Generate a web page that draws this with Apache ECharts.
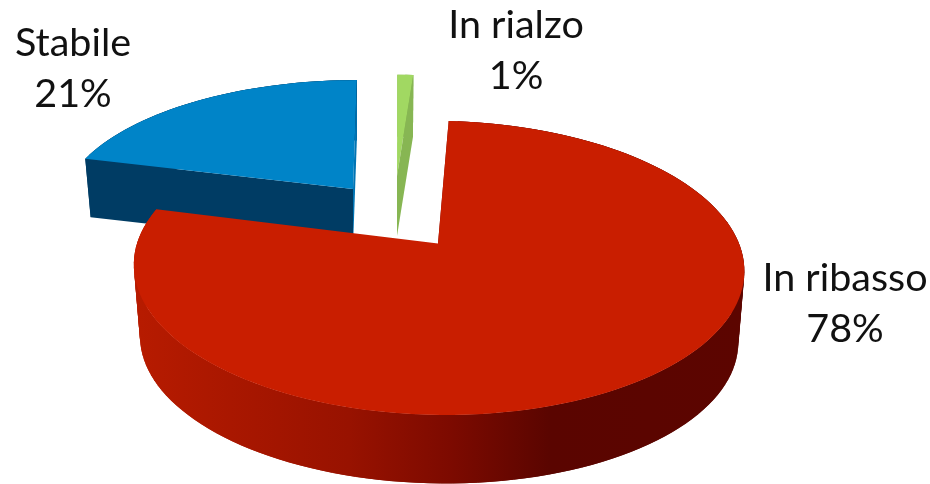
<!DOCTYPE html>
<html>
<head>
<meta charset="utf-8">
<title>Andamento</title>
<style>
html, body { margin: 0; padding: 0; background: #fff; }
#chart { width: 930px; height: 484px; }
</style>
<script src="https://cdn.jsdelivr.net/npm/echarts@6/dist/echarts.min.js"></script>
</head>
<body>
<div id="chart"></div>
<script>
var categories = ['In rialzo', 'In ribasso', 'Stabile'];
var shares = [1, 78, 21];

// one entry per slice, same order as categories
// cx,cy = tip of the exploded slice, rx,ry = disc radius, h = thickness, vx = vanishing x
var layout = [
	{cx: 397, cy: 176, rx: 297, ry: 118, h: 60, vx: 399, labelX: 516, labelY: 51, z: 2},
	{cx: 438, cy: 243.5, rx: 301, ry: 143, h: 72, vx: 399, labelX: 845, labelY: 304, z: 3},
	{cx: 353, cy: 189, rx: 289, ry: 127, h: 58, vx: 380, labelX: 73, labelY: 69, z: 1}
];
var tops = ['#a1d862', '#c91e00', '#0084c8'];
var cuts = ['#87b653', null, '#0074b4'];
var sides = ['#87b653', null, '#003c64'];
var perspective = 0.166;
var shrink = 0.98;

var total = 0;
for (var i = 0; i < shares.length; i++) {
	total += shares[i];
}

function project(s, angle, lower) {
	var a = angle * Math.PI / 180;
	var X = Math.sin(a), Y = -Math.cos(a);
	var w = 1 - perspective * Y;
	var dx = s.rx * X / w, dy = s.ry * Y / w;
	var base = s.vx + (s.cx - s.vx) / w;
	if (lower) {
		return [base + dx * shrink, s.cy + dy * shrink + s.h];
	}
	return [base + dx, s.cy + dy];
}

function arc(s, from, to, lower) {
	var pts = [];
	var steps = Math.max(2, Math.ceil((to - from) / 2));
	for (var i = 0; i <= steps; i++) {
		pts.push(project(s, from + (to - from) * i / steps, lower));
	}
	return pts;
}

function tip(s, lower) {
	return lower ? [s.cx, s.cy + s.h] : [s.cx, s.cy];
}

function poly(points, fill, z) {
	return {type: 'polygon', z2: z, shape: {points: points}, style: {fill: fill}};
}

function renderSlice(params, api) {
	var idx = params.dataIndex;
	var s = layout[idx];
	var from = 0;
	for (var i = 0; i < idx; i++) {
		from += shares[i] / total * 360;
	}
	var to = from + api.value(0) / total * 360;
	var sideFill = sides[idx];
	if (!sideFill) {
		// shading of the round wall, global so the strips line up
		sideFill = new echarts.graphic.LinearGradient(135, 0, 745, 0, [
			{offset: 0, color: '#b71b00'},
			{offset: 0.35, color: '#981200'},
			{offset: 0.52, color: '#7c0a00'},
			{offset: 0.68, color: '#5a0500'},
			{offset: 1, color: '#5c0500'}
		], true);
	}
	var children = [];
	var upper = arc(s, from, to, false);
	var lower = arc(s, from, to, true);
	for (var j = 0; j < upper.length - 1; j++) {
		// strips overlap by one step so no seams show
		var k = Math.min(j + 2, upper.length - 1);
		children.push(poly([upper[j], upper[k], lower[k], lower[j]], sideFill, s.z * 10));
	}
	// flat face at the start of the slice
	children.push(poly([tip(s), project(s, from), project(s, from, true), tip(s, true)], sideFill, s.z * 10));
	children.push(poly([tip(s)].concat(upper), tops[idx], s.z * 10 + 1));
	if (cuts[idx]) {
		// flat face at the end of the slice, seen past the edge of the top
		children.push(poly([tip(s), project(s, to), project(s, to, true), tip(s, true)], cuts[idx], s.z * 10 + 2));
	}
	children.push({
		type: 'text',
		z2: 100,
		style: {
			x: s.labelX,
			y: s.labelY,
			text: categories[idx] + '\n' + api.value(0) + '%',
			fill: '#111',
			font: '39.5px Lato',
			lineHeight: 51,
			align: 'center',
			verticalAlign: 'middle'
		}
	});
	return {type: 'group', children: children};
}

var myChart = echarts.init(document.getElementById('chart'));
var option = {
	animation: false,
	backgroundColor: '#fff',
	series: [
		{
			type: 'custom',
			coordinateSystem: 'none',
			renderItem: renderSlice,
			data: shares.map(function(v) { return [v]; })
		}
	]
};
myChart.setOption(option);
</script>
</body>
</html>
